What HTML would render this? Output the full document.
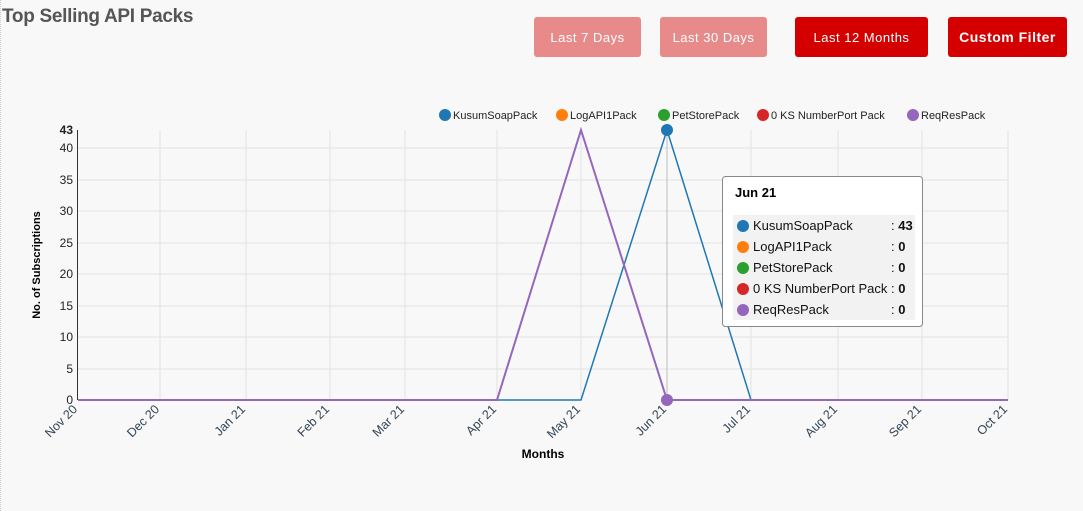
<!DOCTYPE html>
<html><head><meta charset="utf-8"><style>
body{margin:0;width:1083px;height:511px;background:#f8f8f8;font-family:"Liberation Sans",sans-serif;position:relative;overflow:hidden}
.t{position:absolute;left:2px;top:6px;font-size:19px;font-weight:bold;color:#555;letter-spacing:-0.3px}
.b{position:absolute;top:17px;height:40px;border-radius:3px;color:#fff;font-size:13px;display:flex;align-items:center;justify-content:center;letter-spacing:.5px}
.lb{position:absolute;left:0;top:0;bottom:0;border-left:1px dotted #ccc}
</style></head><body>
<div class="lb"></div>
<div class="t">Top Selling API Packs</div>
<div class="b" style="left:534px;width:107px;background:#e88a8a">Last 7 Days</div>
<div class="b" style="left:660px;width:107px;background:#e88a8a">Last 30 Days</div>
<div class="b" style="left:795px;width:133px;background:#d40000">Last 12 Months</div>
<div class="b" style="left:948px;width:119px;background:#d40000;font-weight:bold;font-size:14px">Custom Filter</div>
<svg width="1083" height="511" style="position:absolute;left:0;top:0" font-family="Liberation Sans, sans-serif">
<g stroke="#e2e2e2" stroke-width="1">
<line x1="78" x2="1008" y1="148" y2="148"/><line x1="78" x2="1008" y1="180" y2="180"/><line x1="78" x2="1008" y1="211" y2="211"/><line x1="78" x2="1008" y1="243" y2="243"/><line x1="78" x2="1008" y1="274" y2="274"/><line x1="78" x2="1008" y1="306" y2="306"/><line x1="78" x2="1008" y1="337" y2="337"/><line x1="78" x2="1008" y1="369" y2="369"/>
<line x1="160" x2="160" y1="130" y2="400"/><line x1="246" x2="246" y1="130" y2="400"/><line x1="330" x2="330" y1="130" y2="400"/><line x1="405" x2="405" y1="130" y2="400"/><line x1="497" x2="497" y1="130" y2="400"/><line x1="581" x2="581" y1="130" y2="400"/><line x1="667" x2="667" y1="130" y2="400"/><line x1="751" x2="751" y1="130" y2="400"/><line x1="838" x2="838" y1="130" y2="400"/><line x1="922" x2="922" y1="130" y2="400"/><line x1="1008" x2="1008" y1="130" y2="400"/>
</g>
<line x1="667" x2="667" y1="130" y2="400" stroke="#bbb"/>
<line x1="77.5" x2="77.5" y1="130" y2="400" stroke="#333"/>
<g font-size="12" text-anchor="end" fill="#222">
<text x="73" y="134" font-weight="bold">43</text><text x="73" y="152">40</text><text x="73" y="184">35</text><text x="73" y="215">30</text><text x="73" y="247">25</text><text x="73" y="278">20</text><text x="73" y="310">15</text><text x="73" y="341">10</text><text x="73" y="373">5</text><text x="73" y="404">0</text>
</g>
<g font-size="12.5" fill="#345" text-anchor="end">
<text transform="translate(78,410) rotate(-45)">Nov 20</text><text transform="translate(160,410) rotate(-45)">Dec 20</text><text transform="translate(246,410) rotate(-45)">Jan 21</text><text transform="translate(330,410) rotate(-45)">Feb 21</text><text transform="translate(405,410) rotate(-45)">Mar 21</text><text transform="translate(497,410) rotate(-45)">Apr 21</text><text transform="translate(581,410) rotate(-45)">May 21</text><text transform="translate(667,410) rotate(-45)">Jun 21</text><text transform="translate(751,410) rotate(-45)">Jul 21</text><text transform="translate(838,410) rotate(-45)">Aug 21</text><text transform="translate(922,410) rotate(-45)">Sep 21</text><text transform="translate(1008,410) rotate(-45)">Oct 21</text>
</g>
<text x="543" y="458" font-size="12" font-weight="bold" text-anchor="middle">Months</text>
<text transform="translate(40,265) rotate(-90)" font-size="11" font-weight="bold" text-anchor="middle">No. of Subscriptions</text>
<polyline points="78,400 497,400 581,400 667,130 751,400 1008,400" fill="none" stroke="#1f77b4" stroke-width="1.5"/>
<polyline points="78,400 497,400 581,130 667,400 1008,400" fill="none" stroke="#9467bd" stroke-width="2"/>
<circle cx="667" cy="130" r="6" fill="#1f77b4"/><circle cx="667" cy="400" r="6" fill="#9467bd"/>
<g font-size="11" fill="#222">
<circle cx="445" cy="115" r="6" fill="#1f77b4"/><text x="453" y="119">KusumSoapPack</text>
<circle cx="562" cy="115" r="6" fill="#ff7f0e"/><text x="570" y="119">LogAPI1Pack</text>
<circle cx="664" cy="115" r="6" fill="#2ca02c"/><text x="672" y="119">PetStorePack</text>
<circle cx="763" cy="115" r="6" fill="#d62728"/><text x="771" y="119">0 KS NumberPort Pack</text>
<circle cx="913" cy="115" r="6" fill="#9467bd"/><text x="921" y="119">ReqResPack</text>
</g>
<rect x="722.5" y="176.5" width="200" height="150" rx="3" fill="#fff" stroke="#888"/>
<text x="735" y="197" font-size="13" font-weight="bold">Jun 21</text>
<rect x="733" y="215" width="182" height="105" fill="#f2f2f2"/>
<g font-size="13" fill="#111">
<circle cx="743" cy="226" r="6" fill="#1f77b4"/><text x="753" y="230">KusumSoapPack</text><text x="891" y="230">: <tspan font-weight="bold">43</tspan></text>
<circle cx="743" cy="247" r="6" fill="#ff7f0e"/><text x="753" y="251">LogAPI1Pack</text><text x="891" y="251">: <tspan font-weight="bold">0</tspan></text>
<circle cx="743" cy="268" r="6" fill="#2ca02c"/><text x="753" y="272">PetStorePack</text><text x="891" y="272">: <tspan font-weight="bold">0</tspan></text>
<circle cx="743" cy="289" r="6" fill="#d62728"/><text x="753" y="293">0 KS NumberPort Pack</text><text x="891" y="293">: <tspan font-weight="bold">0</tspan></text>
<circle cx="743" cy="310" r="6" fill="#9467bd"/><text x="753" y="314">ReqResPack</text><text x="891" y="314">: <tspan font-weight="bold">0</tspan></text>
</g>
</svg>
</body></html>
